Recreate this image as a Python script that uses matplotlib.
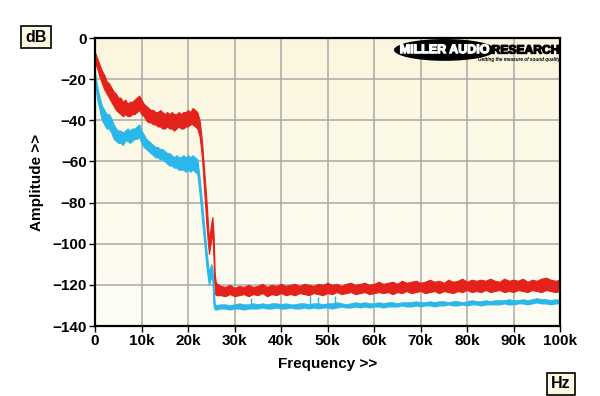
import numpy as np
import matplotlib.pyplot as plt
import matplotlib.patheffects as pe
from matplotlib.patches import Ellipse

freq = np.concatenate([
    np.arange(0, 22.5, 0.5),
    [22.5, 23, 23.5, 24, 24.5, 25, 25.25, 25.5, 25.75, 26],
    np.arange(27, 101, 1),
])

# red trace: upper / lower edge of the noise band (dB)
red_hi = [-7, -10, -13, -16, -18, -21, -22, -24, -26, -27, -29, -29, -31, -30, -32,
          -31, -31, -30, -29, -28, -30, -32, -33, -34, -35, -35, -36, -36, -35, -36,
          -37, -36, -37, -36, -37, -37, -36, -37, -36, -36, -35, -36, -34, -35, -36,
          -40, -50, -65, -80, -98, -90, -87, -95, -115, -119,
          -120.5, -121, -120, -121.5, -120.5, -121, -120, -121, -120.5, -119.5,
          -121, -120, -120.5, -119.5, -120.5, -120, -119.5, -120.5, -119.5, -120,
          -120.5, -119.5, -120, -119, -120, -119.5, -120.5, -119.5, -119, -120,
          -119.5, -119, -120, -119.5, -118.5, -119.5, -119, -118.5, -119.5, -118,
          -119, -118.5, -118, -119, -118.5, -117.5, -118.5, -118, -119, -117.5,
          -118.5, -118, -117, -118.5, -117.5, -118, -117.5, -118, -117, -118,
          -118.5, -117, -118, -117.5, -118, -117, -118.5, -117.5, -118, -117,
          -116.5, -117.5, -118, -117.5]
red_lo = [-12, -15, -19, -22, -25, -27, -29, -31, -33, -35, -36, -37, -38, -37, -38,
          -38, -37, -37, -36, -35, -37, -38, -40, -41, -41, -42, -42, -43, -43, -44,
          -44, -43, -44, -44, -45, -44, -43, -44, -44, -43, -43, -42, -42, -43, -44,
          -48, -58, -75, -92, -105, -98, -95, -108, -124, -125,
          -125, -125.5, -124.5, -125.5, -125, -124.5, -125.5, -124.5, -125, -124,
          -125.5, -124.5, -125, -124, -125, -124.5, -125, -124, -124.5, -125,
          -124, -124.5, -125, -124, -124.5, -123.5, -124.5, -124, -123.5, -124.5,
          -124, -123.5, -124.5, -124, -123.5, -124, -123.5, -124.5, -123.5, -124,
          -123, -124, -123.5, -123, -124, -123.5, -123, -124, -123, -123.5,
          -124, -123, -123.5, -122.5, -123.5, -123, -123.5, -122.5, -123.5, -123,
          -122.5, -123.5, -123, -123.5, -122.5, -123, -123.5, -122.5, -123, -123.5,
          -122.5, -123, -123.5, -123]

# cyan trace: upper / lower edge of the noise band (dB)
cyan_hi = [-17, -24, -29, -33, -35, -37, -37, -39, -42, -44, -45, -45, -46, -45, -44,
           -45, -44, -44, -43, -42, -45, -47, -49, -50, -51, -52, -53, -53, -54, -54,
           -55, -56, -56, -57, -58, -57, -58, -58, -57, -58, -57, -58, -57, -58, -59,
           -68, -80, -92, -104, -114, -110, -112, -122, -129, -130,
           -129.5, -129.5, -130, -129.5, -129, -129.5, -129.5, -129, -129.5, -129,
           -129.5, -129, -129, -129.5, -129, -129.5, -129.5, -129, -129, -129.5,
           -129, -129, -129.5, -129, -129, -128.5, -129, -129.5, -129, -128.5,
           -129, -128.5, -129, -129, -128.5, -129, -128.5, -128.5, -129, -128.5,
           -128.5, -128.5, -128, -128.5, -128.5, -128, -128.5, -128, -128, -128.5,
           -128, -128, -128.5, -128, -127.5, -128, -128, -127.5, -128, -127.5,
           -127.5, -127.5, -127, -127.5, -127.5, -127, -127.5, -127, -126.5, -127,
           -127, -127.5, -127, -127.5]
cyan_lo = [-21, -30, -35, -40, -42, -44, -44, -46, -49, -50, -51, -51, -52, -50, -50,
           -51, -50, -49, -49, -48, -51, -53, -54, -55, -56, -57, -58, -58, -59, -59,
           -60, -61, -62, -62, -63, -63, -64, -64, -64, -65, -64, -65, -64, -65, -66,
           -76, -88, -100, -112, -120, -116, -118, -130, -132, -132,
           -131.5, -131.5, -132, -131.5, -131.5, -132, -131.5, -131.5, -131.5, -131,
           -131.5, -131.5, -131, -131.5, -131.5, -131, -131.5, -131.5, -131, -131.5,
           -131, -131.5, -131, -131, -131.5, -131, -130.5, -131, -131, -130.5,
           -131, -130.5, -131, -130.5, -130.5, -131, -130.5, -130.5, -130.5, -130,
           -130.5, -130.5, -130, -130.5, -130, -130, -130.5, -130, -130, -129.5,
           -130, -130, -129.5, -130, -129.5, -129.5, -130, -129.5, -129.5, -129.5,
           -129.5, -129, -129.5, -129.5, -129, -129, -129.5, -129, -128.5, -129,
           -129, -129.5, -129, -129]

# small tones sticking out of the cyan noise floor
cyan_spike_freq = [33.5, 46.2, 48.0, 51.6]
cyan_spike_top = [-126.5, -125.5, -126, -125.5]
cyan_spike_base = [-130.5, -130, -130, -130]

xticks = np.arange(0, 101, 10)
xtick_labels = ['0'] + ['%dk' % v for v in xticks[1:]]
yticks = np.arange(-140, 1, 20)

RED = '#e3231b'
CYAN = '#2ab7ea'

plt.rcParams['font.family'] = ['Liberation Sans', 'DejaVu Sans']

fig = plt.figure(figsize=(6, 3.96), dpi=100)
fig.patch.set_facecolor('white')
ax = fig.add_axes([95 / 600, 70 / 396, 465 / 600, 288 / 396])

# cream gradient background
grad = np.linspace(0, 1, 256).reshape(-1, 1)
top = np.array([0.984, 0.965, 0.870])
bot = np.array([0.996, 0.992, 0.960])
img = top[None, None, :] * (1 - grad[:, :, None]) + bot[None, None, :] * grad[:, :, None]
ax.imshow(img, extent=[0, 100, -140, 0], aspect='auto', zorder=0)

ax.set_xlim(0, 100)
ax.set_ylim(-140, 0)
ax.set_xticks(xticks)
ax.set_xticklabels(xtick_labels)
ax.set_yticks(yticks)
ax.grid(True, color='#a9a9a9', linewidth=1.1, zorder=1)

for hi, lo, c in [(red_hi, red_lo, RED), (cyan_hi, cyan_lo, CYAN)]:
    ax.fill_between(freq, lo, hi, color=c, linewidth=0.8, edgecolor=c, zorder=3)
ax.vlines(cyan_spike_freq, cyan_spike_base, cyan_spike_top, color=CYAN, linewidth=1.0, zorder=3)

for s in ax.spines.values():
    s.set_linewidth(1.6)
    s.set_zorder(5)
ax.tick_params(direction='out', length=4, width=1, labelsize=11, pad=2)
for lab in ax.get_xticklabels() + ax.get_yticklabels():
    lab.set_fontweight('bold')

ax.set_xlabel('Frequency >>', fontsize=11, fontweight='bold', labelpad=6)
ax.set_ylabel('Amplitude >>', fontsize=11, fontweight='bold', labelpad=6)

box = dict(boxstyle='square,pad=0.25', facecolor='#fbf7e2', edgecolor='black', linewidth=1.2)
fig.text(36 / 600, 1 - 37 / 396, 'dB', ha='center', va='center', fontsize=11.5,
         fontweight='bold', bbox=box)
fig.text(561 / 600, 1 - 384 / 396, 'Hz', ha='center', va='center', fontsize=11.5,
         fontweight='bold', bbox=box)

# logo
ax.add_patch(Ellipse((75.2, -5.8), 21.8, 10.6, facecolor='black', edgecolor='none',
                     zorder=6, clip_on=False))
ax.text(75.2, -5.9, 'MILLER AUDIO', color='white', fontsize=9, fontweight='bold',
        ha='center', va='center', zorder=7,
        path_effects=[pe.withStroke(linewidth=0.9, foreground='white')])
ax.text(85.3, -6.1, 'RESEARCH', color='black', fontsize=8.7, fontweight='bold',
        ha='left', va='center', zorder=7,
        path_effects=[pe.withStroke(linewidth=0.9, foreground='black')])
ax.text(100, -10.6, 'Getting the measure of sound quality', color='black', fontsize=3.3,
        fontweight='bold', style='italic', ha='right', va='center', zorder=7)

fig.savefig('out.png', dpi=100)
